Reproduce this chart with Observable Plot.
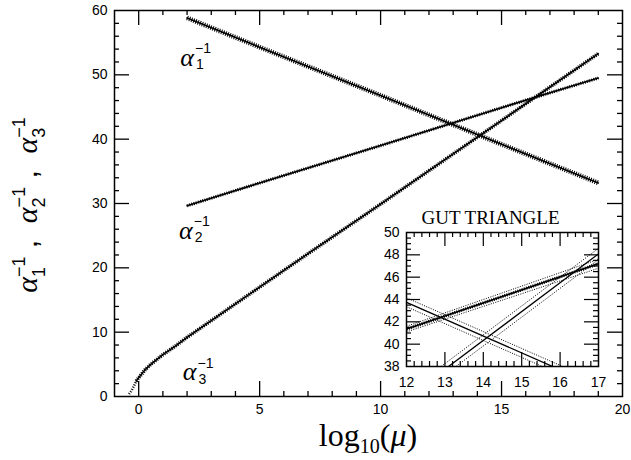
<!DOCTYPE html>
<html>
<head>
<meta charset="utf-8">
<script src="https://cdn.jsdelivr.net/npm/d3@7"></script>
<script src="https://cdn.jsdelivr.net/npm/@observablehq/plot@0.6"></script>
<style>
  body { margin: 0; background: #fff; }
  #wrap { position: relative; width: 631px; height: 460px; overflow: hidden; }
  #wrap svg { position: absolute; }
</style>
</head>
<body>
<div id="wrap"></div>
<script>
// ---------------- data ----------------
// main panel: inverse couplings vs log10(mu)
const alpha1X = [2, 5, 10, 15, 19];
const alpha1Y = [58.85, 54.3, 46.8, 39.2, 33.2];
const alpha2X = [2, 5, 10, 15, 19];
const alpha2Y = [29.65, 33.2, 39.0, 44.9, 49.5];
const alpha3X = [-0.1, 0, 0.25, 0.5, 1, 1.5, 2, 3, 5, 7, 10, 13, 16, 19];
const alpha3Y = [2.4, 2.9, 4.1, 5.0, 6.5, 7.8, 9.2, 11.8, 17.0, 22.2, 29.9, 37.7, 45.5, 53.3];
const alpha3TailX = [-0.4, -0.3, -0.2, -0.1];
const alpha3TailY = [0.4, 0.9, 1.6, 2.4];

// curve labels
const curveLabels = [
  {sub: "1", x: 2.0, y: 52.7},
  {sub: "2", x: 1.95, y: 25.8},
  {sub: "3", x: 2.1, y: 3.8}
];

// main axes ticks
const xTickLabels = [0, 5, 10, 15, 20];
const xMajorTicks = [0, 5, 10, 15];
const xMinorTicks = [1, 2, 3, 4, 6, 7, 8, 9, 11, 12, 13, 14, 16, 17, 18, 19];
const yTickLabels = [0, 10, 20, 30, 40, 50, 60];
const yMajorTicks = [10, 20, 30, 40, 50];
const yMinorTicks = [2, 4, 6, 8, 12, 14, 16, 18, 22, 24, 26, 28, 32, 34, 36, 38, 42, 44, 46, 48, 52, 54, 56, 58];

// inset "GUT TRIANGLE": centre lines and dotted error bands
const insetA1X = [12, 16.3];
const insetA1Y = [43.75, 37.25];
const insetA1Up = [44.15, 37.65];
const insetA1Lo = [43.35, 36.85];
const insetA2X = [12, 17];
const insetA2Y = [41.35, 47.2];
const insetA2Up = [41.6, 47.6];
const insetA2Lo = [41.1, 46.8];
const insetA3X = [12.9, 17.2];
const insetA3Y = [37.5, 48.6];
const insetA3Up = [38.0, 49.1];
const insetA3Lo = [37.0, 48.1];

const insetXLabels = [12, 13, 14, 15, 16, 17];
const insetXMajor = [13, 14, 15, 16];
const insetXMinor = [12.2, 12.4, 12.6, 12.8, 13.2, 13.4, 13.6, 13.8, 14.2, 14.4, 14.6, 14.8, 15.2, 15.4, 15.6, 15.8, 16.2, 16.4, 16.6, 16.8];
const insetYLabels = [38, 40, 42, 44, 46, 48, 50];
const insetYMajor = [40, 42, 44, 46, 48];
const insetYMinor = [38.5, 39, 39.5, 40.5, 41, 41.5, 42.5, 43, 43.5, 44.5, 45, 45.5, 46.5, 47, 47.5, 48.5, 49, 49.5];

// ---------------- helpers ----------------
const rows = (xs, ys) => xs.map((x, i) => ({x, y: ys[i]}));
const SANS = "'Liberation Sans', Arial, Helvetica, sans-serif";
const SERIF = "'Liberation Serif', 'Times New Roman', serif";
const intFmt = d3.format("d");

const W = 631, H = 460;
const mL = 114, mR = 9, mT = 10, mB = 64;
const innerW = W - mL - mR, innerH = H - mT - mB;
const MAJ = 15, MIN = 5;

function hatched(data, width) {
  return [
    Plot.line(data, {x: "x", y: "y", stroke: "#000", strokeWidth: 1.6}),
    Plot.line(data, {x: "x", y: "y", stroke: "#000", strokeWidth: width, strokeDasharray: "1,1.3", strokeLinecap: "butt"})
  ];
}

const main = Plot.plot({
  width: W, height: H,
  marginLeft: mL, marginRight: mR, marginTop: mT, marginBottom: mB,
  x: {domain: [-1, 20]},
  y: {domain: [0, 60]},
  style: {background: "white", fontFamily: SANS, color: "#000"},
  marks: [
    // ticks (inward, all four sides)
    Plot.tickX(xMajorTicks, {x: d => d, insetTop: innerH - MAJ, strokeWidth: 1.3}),
    Plot.tickX(xMinorTicks, {x: d => d, insetTop: innerH - MIN, strokeWidth: 1.3}),
    Plot.tickX(xMajorTicks, {x: d => d, insetBottom: innerH - MAJ, strokeWidth: 1.3}),
    Plot.tickX(xMinorTicks, {x: d => d, insetBottom: innerH - MIN, strokeWidth: 1.3}),
    Plot.tickY(yMajorTicks, {y: d => d, insetRight: innerW - MAJ, strokeWidth: 1.3}),
    Plot.tickY(yMinorTicks, {y: d => d, insetRight: innerW - MIN, strokeWidth: 1.3}),
    Plot.tickY(yMajorTicks, {y: d => d, insetLeft: innerW - MAJ, strokeWidth: 1.3}),
    Plot.tickY(yMinorTicks, {y: d => d, insetLeft: innerW - MIN, strokeWidth: 1.3}),
    Plot.frame({stroke: "#000", strokeWidth: 1.5}),
    Plot.axisX({ticks: xTickLabels, tickFormat: intFmt, tickSize: 0, tickPadding: 8, fontSize: 14, label: null}),
    Plot.axisY({ticks: yTickLabels, tickFormat: intFmt, tickSize: 0, tickPadding: 7, fontSize: 14, label: null}),
    // curves
    ...hatched(rows(alpha1X, alpha1Y), 4.8),
    ...hatched(rows(alpha2X, alpha2Y), 3.2),
    ...hatched(rows(alpha3X, alpha3Y), 3.8),
    Plot.line(rows(alpha3TailX, alpha3TailY), {x: "x", y: "y", stroke: "#000", strokeWidth: 2.5, strokeDasharray: "1,1.5", strokeLinecap: "butt"}),
    // curve labels
    Plot.text(curveLabels, {x: "x", y: "y", text: d => "α", fontSize: 26, fontStyle: "italic", fontFamily: SERIF, textAnchor: "middle"}),
    Plot.text(curveLabels, {x: "x", y: "y", text: "sub", fontSize: 14, fontFamily: SANS, textAnchor: "start", dx: 9, dy: 7}),
    Plot.text(curveLabels, {x: "x", y: "y", text: d => "−1", fontSize: 14, fontFamily: SANS, textAnchor: "start", dx: 8, dy: -9})
  ]
});
main.style.left = "0px";
main.style.top = "0px";

// axis titles (real text with stacked sub/superscripts)
const msvg = d3.select(main);
const yt = msvg.append("text")
  .attr("transform", "translate(37,205) rotate(-90)")
  .attr("text-anchor", "middle")
  .attr("fill", "#000");
["1", "2", "3"].forEach((k, i) => {
  yt.append("tspan").attr("font-family", SERIF).attr("font-style", "italic").attr("font-size", 30).text("α");
  yt.append("tspan").attr("font-family", SANS).attr("font-size", 18).attr("dy", 8).text(k);
  yt.append("tspan").attr("font-family", SANS).attr("font-size", 18).attr("dx", -10).attr("dy", -20).text("−1");
  yt.append("tspan").attr("font-family", SANS).attr("font-size", 30).attr("dy", 12).text(i < 2 ? " ,  " : "");
});
const xt = msvg.append("text")
  .attr("x", 368).attr("y", 446)
  .attr("text-anchor", "middle")
  .attr("fill", "#000")
  .attr("font-family", SERIF);
xt.append("tspan").attr("font-size", 32).text("log");
xt.append("tspan").attr("font-size", 20).attr("dy", 7).text("10");
xt.append("tspan").attr("font-size", 32).attr("dy", -7).text("(");
xt.append("tspan").attr("font-size", 32).attr("font-style", "italic").text("μ");
xt.append("tspan").attr("font-size", 32).text(")");

// ---------------- inset ----------------
const iL = 46, iT = 37, iR = 16, iB = 34;
const iW = 598 - 406 + iL + iR, iH = 366 - 232 + iT + iB;
const iInnerW = iW - iL - iR, iInnerH = iH - iT - iB;
const IMAJ = 14, IMIN = 5;
const dotted = {stroke: "#000", strokeWidth: 1, strokeDasharray: "1,1.4", strokeLinecap: "butt", clip: true};
const solid = {stroke: "#000", strokeWidth: 1.3, clip: true};

const inset = Plot.plot({
  width: iW, height: iH,
  marginLeft: iL, marginRight: iR, marginTop: iT, marginBottom: iB,
  x: {domain: [12, 17]},
  y: {domain: [38, 50]},
  style: {background: "transparent", fontFamily: SANS, color: "#000"},
  marks: [
    Plot.frame({fill: "white"}),
    Plot.tickX(insetXMajor, {x: d => d, insetTop: iInnerH - IMAJ, strokeWidth: 1.2}),
    Plot.tickX(insetXMinor, {x: d => d, insetTop: iInnerH - IMIN, strokeWidth: 1.2}),
    Plot.tickX(insetXMajor, {x: d => d, insetBottom: iInnerH - IMAJ, strokeWidth: 1.2}),
    Plot.tickX(insetXMinor, {x: d => d, insetBottom: iInnerH - IMIN, strokeWidth: 1.2}),
    Plot.tickY(insetYMajor, {y: d => d, insetRight: iInnerW - IMAJ, strokeWidth: 1.2}),
    Plot.tickY(insetYMinor, {y: d => d, insetRight: iInnerW - IMIN, strokeWidth: 1.2}),
    Plot.tickY(insetYMajor, {y: d => d, insetLeft: iInnerW - IMAJ, strokeWidth: 1.2}),
    Plot.tickY(insetYMinor, {y: d => d, insetLeft: iInnerW - IMIN, strokeWidth: 1.2}),
    Plot.frame({stroke: "#000", strokeWidth: 1.5}),
    Plot.axisX({ticks: insetXLabels, tickFormat: intFmt, tickSize: 0, tickPadding: 11, fontSize: 14, label: null}),
    Plot.axisY({ticks: insetYLabels, tickFormat: intFmt, tickSize: 0, tickPadding: 7, fontSize: 14, label: null}),
    // alpha1
    Plot.line(rows(insetA1X, insetA1Up), {x: "x", y: "y", ...dotted}),
    Plot.line(rows(insetA1X, insetA1Lo), {x: "x", y: "y", ...dotted}),
    Plot.line(rows(insetA1X, insetA1Y), {x: "x", y: "y", ...solid}),
    // alpha2
    Plot.line(rows(insetA2X, insetA2Up), {x: "x", y: "y", ...dotted}),
    Plot.line(rows(insetA2X, insetA2Lo), {x: "x", y: "y", ...dotted}),
    Plot.line(rows(insetA2X, insetA2Y), {x: "x", y: "y", ...solid, strokeWidth: 1.6}),
    Plot.line(rows(insetA2X, insetA2Y), {x: "x", y: "y", ...solid, strokeWidth: 3.2, strokeDasharray: "1,1.3", strokeLinecap: "butt"}),
    // alpha3
    Plot.line(rows(insetA3X, insetA3Up), {x: "x", y: "y", ...dotted}),
    Plot.line(rows(insetA3X, insetA3Lo), {x: "x", y: "y", ...dotted}),
    Plot.line(rows(insetA3X, insetA3Y), {x: "x", y: "y", ...solid}),
    // title
    Plot.text(["GUT TRIANGLE"], {frameAnchor: "top", text: d => d, dx: -12, dy: -9, lineAnchor: "bottom", fontSize: 19, fontFamily: SERIF})
  ]
});
inset.style.left = (406 - iL) + "px";
inset.style.top = (232 - iT) + "px";

const wrap = document.getElementById("wrap");
wrap.appendChild(main);
wrap.appendChild(inset);
</script>
</body>
</html>
